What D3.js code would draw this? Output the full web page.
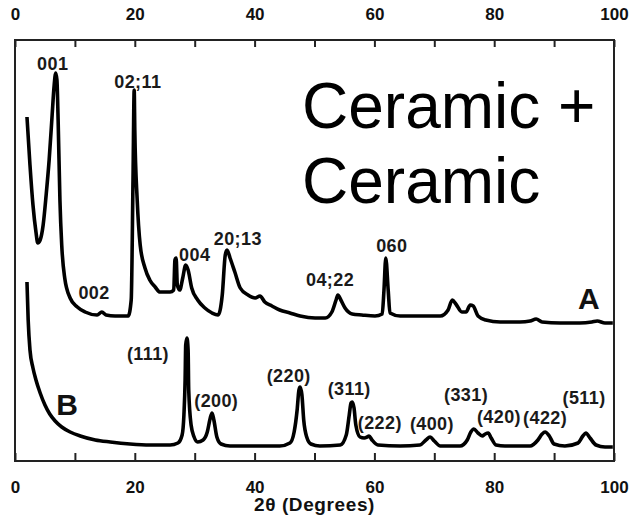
<!DOCTYPE html>
<html>
<head>
<meta charset="utf-8">
<script src="https://cdn.jsdelivr.net/npm/d3@7"></script>
<style>
  body { margin: 0; background: #fff; }
  svg { display: block; }
  text { font-family: "Liberation Sans", Arial, Helvetica, sans-serif; fill: #111; }
  .tick text { font-weight: bold; font-size: 17px; }
  .peak { font-weight: bold; font-size: 18px; letter-spacing: 0.4px; fill: #1a1a1a; }
  .series { font-weight: bold; font-size: 30px; }
  .title { font-size: 64px; fill: #000; }
</style>
</head>
<body>
<svg width="631" height="520"></svg>
<script>
"use strict";

// 2-theta (degrees) and intensity (a.u.)
var thetaA = [2.0, 2.5, 3.0, 3.5, 3.8, 4.2, 4.7, 5.2, 5.7, 6.2, 6.5, 6.8, 7.0, 7.2, 7.5, 7.8, 8.3, 9.2, 10.4, 11.7,
  13.7, 14.5, 15.2, 16.7, 18.9, 19.4, 19.7, 19.9, 20.0, 20.4, 20.9, 21.7, 22.5, 23.4, 24.2, 25.9, 26.5, 26.7, 26.9, 27.1,
  27.5, 28.0, 28.5, 28.9, 29.5, 30.5, 31.7, 32.9, 33.9, 34.6, 35.1, 35.4, 35.9, 36.7, 37.6, 38.9, 40.1, 40.9, 41.7, 42.9,
  44.2, 45.9, 47.6, 50.1, 51.8, 52.9, 53.6, 53.9, 54.4, 55.1, 56.3, 57.9, 60.1, 61.3, 61.6, 61.9, 62.3, 62.6, 64.3, 67.6,
  71.0, 72.3, 73.0, 73.6, 74.6, 75.3, 76.0, 76.5, 77.3, 78.6, 81.0, 84.3, 86.0, 87.0, 88.0, 91.0, 94.3, 96.3, 97.2, 98.5, 99.8];
var intA = [344, 296, 256, 229, 218, 221, 236, 266, 301, 346, 373, 388, 381, 341, 261, 216, 183, 163, 154, 149,
  146, 149, 146, 145, 145, 161, 281, 371, 331, 261, 216, 193, 181, 174, 169, 169, 171, 201, 203, 176,
  171, 183, 196, 191, 173, 161, 153, 148, 146, 166, 206, 211, 203, 189, 173, 166, 163, 165, 159, 155,
  151, 148, 145, 143, 143, 149, 161, 166, 161, 153, 147, 146, 145, 147, 171, 203, 171, 148, 145, 145,
  145, 151, 161, 157, 149, 149, 156, 155, 145, 141, 139, 139, 140, 142, 139, 138, 138, 139, 140, 138, 138];

var thetaB = [2.0, 2.2, 2.5, 3.0, 3.5, 4.2, 5.0, 5.8, 6.7, 7.8, 9.2, 10.9, 13.4, 15.9, 19.2, 22.5, 25.9, 27.2, 27.9, 28.2,
  28.4, 28.5, 28.7, 28.9, 29.0, 29.4, 29.9, 30.5, 31.4, 32.1, 32.6, 32.9, 33.2, 33.7, 34.4, 35.9, 39.2, 44.2, 45.9, 46.6,
  47.1, 47.4, 47.6, 47.9, 48.2, 48.7, 49.4, 50.9, 54.3, 55.3, 55.8, 56.1, 56.3, 56.6, 56.9, 57.6, 58.3, 58.8, 59.1, 59.6,
  60.6, 64.3, 67.6, 68.6, 69.3, 70.0, 71.0, 74.3, 75.5, 76.1, 76.6, 77.3, 78.0, 78.5, 79.0, 79.5, 80.3, 81.8, 86.0, 87.3,
  88.0, 88.5, 89.2, 90.0, 91.8, 94.0, 94.8, 95.3, 96.0, 97.0, 98.5, 99.8];
var intB = [179, 141, 111, 93, 81, 68, 56, 47, 40, 34, 29, 25, 21, 19, 17, 16, 16, 18, 26, 46,
  81, 116, 123, 111, 71, 36, 24, 19, 21, 29, 43, 48, 41, 24, 17, 15, 15, 15, 18, 29,
  51, 71, 74, 66, 41, 24, 17, 15, 16, 26, 46, 58, 59, 53, 36, 24, 23, 24, 25, 21,
  16, 15, 16, 21, 24, 20, 15, 15, 21, 29, 32, 28, 25, 27, 28, 23, 16, 15, 15, 21,
  27, 29, 25, 17, 15, 18, 25, 28, 23, 16, 14, 14];

// peak labels: text, 2-theta, intensity of the label baseline
var labelsA = [["001", 6.3, 391], ["02;11", 20.5, 373], ["002", 13.2, 162], ["004", 30.0, 200],
  ["20;13", 37.2, 216], ["04;22", 52.6, 175], ["060", 62.9, 209]];
var labelsB = [["(111)", 22.2, 101], ["(200)", 33.6, 54], ["(220)", 45.7, 79], ["(311)", 55.8, 66],
  ["(222)", 60.9, 32], ["(400)", 69.6, 31], ["(331)", 75.3, 60], ["(420)", 80.8, 38],
  ["(422)", 88.5, 37], ["(511)", 95.0, 57]];
var seriesNames = [["A", 95.8, 152], ["B", 8.7, 46]];

var tickVals = d3.range(0, 101, 10);
var overlay = ["Ceramic +", "Ceramic"];

var svg = d3.select("svg");
var mLeft = 15, mRight = 614, mTop = 40, mBottom = 461;

var x = d3.scaleLinear().domain([0, 100]).range([mLeft, mRight]);
var y = d3.scaleLinear().domain([0, 421]).range([mBottom, mTop]);

function fmt(d) { return d % 20 === 0 ? d : ""; }

// frame
svg.append("rect")
  .attr("x", mLeft).attr("y", mTop)
  .attr("width", mRight - mLeft).attr("height", mBottom - mTop)
  .attr("fill", "none").attr("stroke", "#222").attr("stroke-width", 2);

var topAxis = svg.append("g")
  .attr("transform", "translate(0," + mTop + ")")
  .call(d3.axisTop(x).tickValues(tickVals).tickFormat(fmt).tickSize(-7).tickPadding(20));
var botAxis = svg.append("g")
  .attr("transform", "translate(0," + mBottom + ")")
  .call(d3.axisBottom(x).tickValues(tickVals).tickFormat(fmt).tickSize(-8).tickPadding(20));

[topAxis, botAxis].forEach(function(a) {
  a.select(".domain").remove();
  a.selectAll(".tick line").attr("stroke", "#222").attr("stroke-width", 2);
  a.selectAll(".tick text").attr("fill", "#111");
});

// curves
var line = d3.line()
  .x(function(d) { return x(d[0]); })
  .y(function(d) { return y(d[1]); })
  .curve(d3.curveMonotoneX);

svg.append("path")
  .datum(d3.zip(thetaA, intA))
  .attr("d", line)
  .attr("fill", "none").attr("stroke", "#000")
  .attr("stroke-width", 3.6).attr("stroke-linejoin", "round");

svg.append("path")
  .datum(d3.zip(thetaB, intB))
  .attr("d", line)
  .attr("fill", "none").attr("stroke", "#000")
  .attr("stroke-width", 3.6).attr("stroke-linejoin", "round");

// labels
svg.append("g").selectAll("text")
  .data(labelsA.concat(labelsB))
  .join("text")
  .attr("class", "peak")
  .attr("text-anchor", "middle")
  .attr("x", function(d) { return x(d[1]); })
  .attr("y", function(d) { return y(d[2]); })
  .text(function(d) { return d[0]; });

svg.append("g").selectAll("text")
  .data(seriesNames)
  .join("text")
  .attr("class", "series")
  .attr("text-anchor", "middle")
  .attr("x", function(d) { return x(d[1]); })
  .attr("y", function(d) { return y(d[2]); })
  .text(function(d) { return d[0]; });

// axis title
svg.append("text")
  .attr("x", x(50)).attr("y", 511)
  .attr("text-anchor", "middle")
  .style("font-weight", "bold").style("font-size", "19px").style("letter-spacing", "0.6px")
  .text("2θ (Degrees)");

// big overlay text
svg.append("g").selectAll("text")
  .data(overlay)
  .join("text")
  .attr("class", "title")
  .attr("x", 302)
  .attr("y", function(d, i) { return 128 + i * 75; })
  .text(function(d) { return d; });
</script>
</body>
</html>
